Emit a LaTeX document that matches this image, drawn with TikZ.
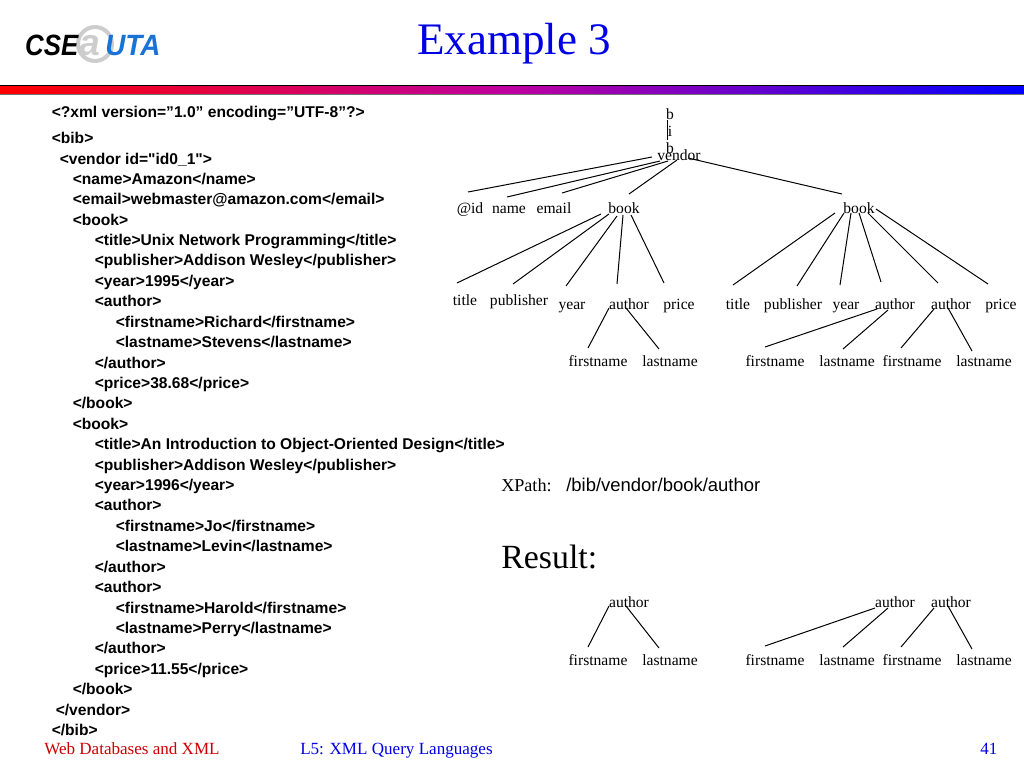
\documentclass[tikz,border=0pt]{standalone}
\usepackage{fontspec}
\setmainfont{Liberation Serif}
\setsansfont{Liberation Sans}
\newfontfamily\codefont{Liberation Sans}
\definecolor{titleblue}{RGB}{0,0,230}
\definecolor{footred}{RGB}{205,0,0}
\definecolor{logoblue}{RGB}{25,115,215}
\definecolor{logogray}{RGB}{205,205,205}
\definecolor{barmid}{RGB}{190,0,160}
\tikzset{
	codeline/.style={anchor=base west, inner sep=0pt, font=\codefont\bfseries\fontsize{11.7}{13}\selectfont},
	treelabel/.style={inner sep=0pt, text height=9pt, text depth=1pt, font=\fontsize{11.7}{14}\selectfont},
	footer/.style={anchor=base west, inner sep=0pt, font=\fontsize{12.8}{14}\selectfont},
	logotext/.style={anchor=base west, inner sep=0pt, font=\sffamily\bfseries\itshape\fontsize{22}{24}\selectfont},
	edge/.style={line width=0.75pt}
}
\begin{document}
\begin{tikzpicture}[x=0.75pt, y=-0.75pt]
	\useasboundingbox (0,0) rectangle (1024,768);
	% header
	\node[circle, draw=logogray, line width=3pt, minimum size=25.5pt, inner sep=0pt] (logoring) at (95,44) {};
	\node[anchor=base west, inner sep=0pt, text=logogray, font=\sffamily\bfseries\itshape\fontsize{28}{30}\selectfont] (logoat) at (79,55) {a};
	\node[logotext, xscale=0.88] (logocse) at (25,55) {CSE};
	\node[logotext, xscale=0.95, text=logoblue] (logouta) at (105,55) {UTA};
	\node[anchor=base, inner sep=0pt, text=titleblue, font=\fontsize{33.8}{36}\selectfont] (title) at (514,54) {Example 3};
	\shade[left color=red, right color=blue, middle color=barmid] (0,85) rectangle (1024,94);
	\draw[black, line width=0.75pt] (0,85) -- (1024,85);
	\draw[black!55, line width=0.5pt] (0,94.3) -- (1024,94.3);
	% xml listing
	\foreach \xx/\yy/\txt [count=\i] in {
		51.5/117/{<?xml version=”1.0” encoding=”UTF-8”?>},
		51.5/143/{<bib>},
		59.5/164/{<vendor id="id0\_1">},
		72.5/184/{<name>Amazon</name>},
		72.5/204/{<email>webmaster@amazon.com</email>},
		72.5/225/{<book>},
		94.5/245/{<title>Unix Network Programming</title>},
		94.5/265/{<publisher>Addison Wesley</publisher>},
		94.5/286/{<year>1995</year>},
		94.5/306/{<author>},
		115.5/327/{<firstname>Richard</firstname>},
		115.5/347/{<lastname>Stevens</lastname>},
		94.5/368/{</author>},
		94.5/388/{<price>38.68</price>},
		72.5/408/{</book>},
		72.5/429/{<book>},
		94.5/449/{<title>An Introduction to Object-Oriented Design</title>},
		94.5/470/{<publisher>Addison Wesley</publisher>},
		94.5/490/{<year>1996</year>},
		94.5/510/{<author>},
		115.5/531/{<firstname>Jo</firstname>},
		115.5/551/{<lastname>Levin</lastname>},
		94.5/572/{</author>},
		94.5/592/{<author>},
		115.5/613/{<firstname>Harold</firstname>},
		115.5/633/{<lastname>Perry</lastname>},
		94.5/653/{</author>},
		94.5/674/{<price>11.55</price>},
		72.5/694/{</book>},
		55.5/715/{</vendor>},
		51.5/735/{</bib>}}
		\node[codeline] (code\i) at (\xx,\yy) {\txt};
	% document tree
	\node[inner sep=0pt, align=center, font=\fontsize{11.7}{13}\selectfont] (bib) at (670,131) {b\\i\\b};
	\foreach \nm/\xx/\yy/\txt in {
		vendor/679/155/vendor, id/470/208/@id, name/509/208/name, email/554/208/email,
		booka/624/208/book, bookb/859/208/book,
		titlea/465/300/title, puba/519/300/publisher, yeara/572/304/year, authora/629/304/author, pricea/679/304/price,
		titleb/738/304/title, pubb/793/304/publisher, yearb/846/304/year, authorb/895/304/author, authorc/951/304/author, priceb/1001/304/price,
		firsta/598/361/firstname, lasta/670/361/lastname, firstb/775/361/firstname, lastb/847/361/lastname,
		firstc/912/361/firstname, lastc/984/361/lastname,
		rauthora/629/602/author, rauthorb/895/602/author, rauthorc/951/602/author,
		rfirsta/598/660/firstname, rlasta/670/660/lastname, rfirstb/775/660/firstname, rlastb/847/660/lastname,
		rfirstc/912/660/firstname, rlastc/984/660/lastname}
		\node[treelabel] (\nm) at (\xx,\yy) {\txt};
	% edges: from, its offset, to, its offset
	\foreach \p/\px/\py/\q/\qx/\qy in {
		bib/-3/-11/vendor/-12/-15,
		vendor/-27/2/id/-2/-16, vendor/-19/6/name/-2/-11, vendor/-11/6/email/8/-15,
		vendor/-2/5/booka/5/-14, vendor/9/3/bookb/-17/-14,
		booka/-23/6/titlea/-8/-17, booka/-15/6/puba/-6/-16, booka/-7/8/yeara/-6/-18,
		booka/-1/7/authora/-12/-20, booka/7/7/pricea/-15/-21,
		bookb/-24/5/titleb/-5/-19, bookb/-15/5/pubb/4/-18, bookb/-8/5/yearb/-6/-19,
		bookb/0/5/authorb/-14/-22, bookb/9/5/authorc/-13/-21, bookb/17/1/priceb/-13/-20,
		authora/-20/4/firsta/-10/-13, authora/-3/4/lasta/-11/-12,
		authorb/-18/5/firstb/-10/-14, authorb/-7/6/lastb/-4/-12,
		authorc/-17/5/firstc/-11/-13, authorc/-3/4/lastc/-12/-10,
		rauthora/-20/4/rfirsta/-10/-13, rauthora/-3/4/rlasta/-11/-12,
		rauthorb/-20/6/rfirstb/-10/-14, rauthorb/-7/6/rlastb/-4/-13,
		rauthorc/-17/6/rfirstc/-11/-13, rauthorc/-3/4/rlastc/-12/-11}
		\draw[edge] ([shift={(\px,\py)}]\p.center) -- ([shift={(\qx,\qy)}]\q.center);
	% query and result
	\node[anchor=base west, inner sep=0pt, font=\fontsize{13.6}{15}\selectfont] (xpath) at (501,491) {XPath:};
	\node[anchor=base west, inner sep=0pt, font=\sffamily\fontsize{13.85}{15}\selectfont] (query) at (566,491) {/bib/vendor/book/author};
	\node[anchor=base west, inner sep=0pt, font=\fontsize{25.4}{28}\selectfont] (result) at (501,568) {Result:};
	% footer
	\node[footer, text=footred] (footl) at (44,754) {Web Databases and XML};
	\node[footer, text=titleblue] (footm) at (300,754) {L5: XML Query Languages};
	\node[footer, text=titleblue] (footr) at (980,754) {41};
\end{tikzpicture}
\end{document}
